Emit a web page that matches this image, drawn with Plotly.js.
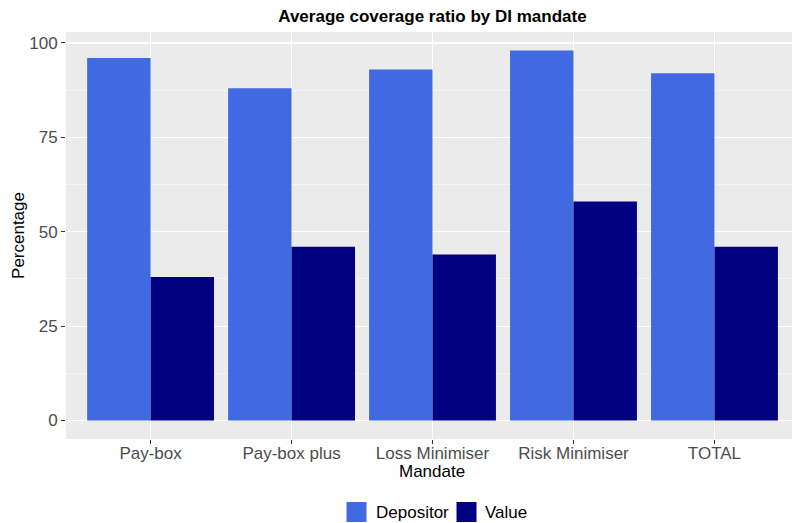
<!DOCTYPE html>
<html>
<head>
<meta charset="utf-8">
<script src="https://cdn.plot.ly/plotly-3.0.1.min.js"></script>
<style>html,body{margin:0;padding:0;overflow:hidden;background:#fff}</style>
</head>
<body>
<div id="chart" style="width:792px;height:523px"></div>
<script>
const categories = ["Pay-box", "Pay-box plus", "Loss Minimiser", "Risk Minimiser", "TOTAL"];
const seriesNames = ["Depositor", "Value"];
const seriesColors = ["#4169E1", "#000080"];
const depositor = [96, 88, 93, 98, 92];
const value = [38, 46, 44, 58, 46];
const yTicks = [0, 25, 50, 75, 100];

const traces = [
  {type: "bar", name: seriesNames[0], x: categories, y: depositor,
   marker: {color: seriesColors[0], line: {width: 0}}},
  {type: "bar", name: seriesNames[1], x: categories, y: value,
   marker: {color: seriesColors[1], line: {width: 0}}}
];

const W = 792, H = 523;
const px = x => (x - 66) / 726;   // page x -> paper
const py = y => (439 - y) / 407;  // page y -> paper

// custom legend (large key squares like ggplot)
const legendKeys = [{x0: 346.5, text: 374}, {x0: 456.5, text: 483}];
const shapes = [];
const annotations = [];
legendKeys.forEach((k, i) => {
  shapes.push({type: "rect", xref: "paper", yref: "paper",
    x0: px(k.x0), x1: px(k.x0 + 20), y0: py(522), y1: py(502),
    fillcolor: seriesColors[i], line: {width: 0}, layer: "above"});
  annotations.push({xref: "paper", yref: "paper",
    x: px(k.text), y: py(512), xanchor: "left", yanchor: "middle",
    text: seriesNames[i], showarrow: false, font: {size: 17, color: "#000"}});
});
// x-axis title
annotations.push({xref: "paper", yref: "paper", x: px(432), y: py(471),
  xanchor: "center", yanchor: "middle", text: "Mandate", showarrow: false,
  font: {size: 17, color: "#000"}});

const layout = {
  width: W, height: H,
  margin: {l: 66, r: 0, t: 32, b: 84, autoexpand: false},
  paper_bgcolor: "#ffffff",
  plot_bgcolor: "#EBEBEB",
  font: {family: "Liberation Sans, Arial, sans-serif", color: "#000"},
  barmode: "group", bargap: 0.1, bargroupgap: 0,
  title: {text: "<b>Average coverage ratio by DI mandate</b>",
          font: {size: 17, color: "#000"},
          xref: "container", x: 0.546, xanchor: "center",
          yref: "container", y: 1 - 16/523, yanchor: "middle"},
  xaxis: {
    type: "category", range: [-0.6, 4.55],
    showgrid: true, gridcolor: "#ffffff", gridwidth: 1.2,
    ticks: "outside", ticklen: 4, tickcolor: "#333333", tickwidth: 1,
    tickfont: {size: 17, color: "#4d4d4d"}, ticklabelstandoff: -5,
    zeroline: false, showline: false,
    automargin: false
  },
  yaxis: {
    range: [-4.9, 102.9],
    tickvals: yTicks, ticktext: yTicks.map(String),
    showgrid: true, gridcolor: "#ffffff", gridwidth: 1.2,
    minor: {tickvals: [12.5, 37.5, 62.5, 87.5], showgrid: true, gridcolor: "#ffffff", gridwidth: 0.5, ticks: ""},
    ticks: "outside", ticklen: 4, tickcolor: "#333333", tickwidth: 1,
    tickfont: {size: 17, color: "#4d4d4d"},
    zeroline: false, showline: false,
    title: {text: "Percentage", font: {size: 17, color: "#000"}, standoff: 0},
    automargin: false
  },
  showlegend: false,
  shapes: shapes,
  annotations: annotations
};

Plotly.newPlot("chart", traces, layout, {displayModeBar: false, staticPlot: true});
</script>
</body>
</html>
